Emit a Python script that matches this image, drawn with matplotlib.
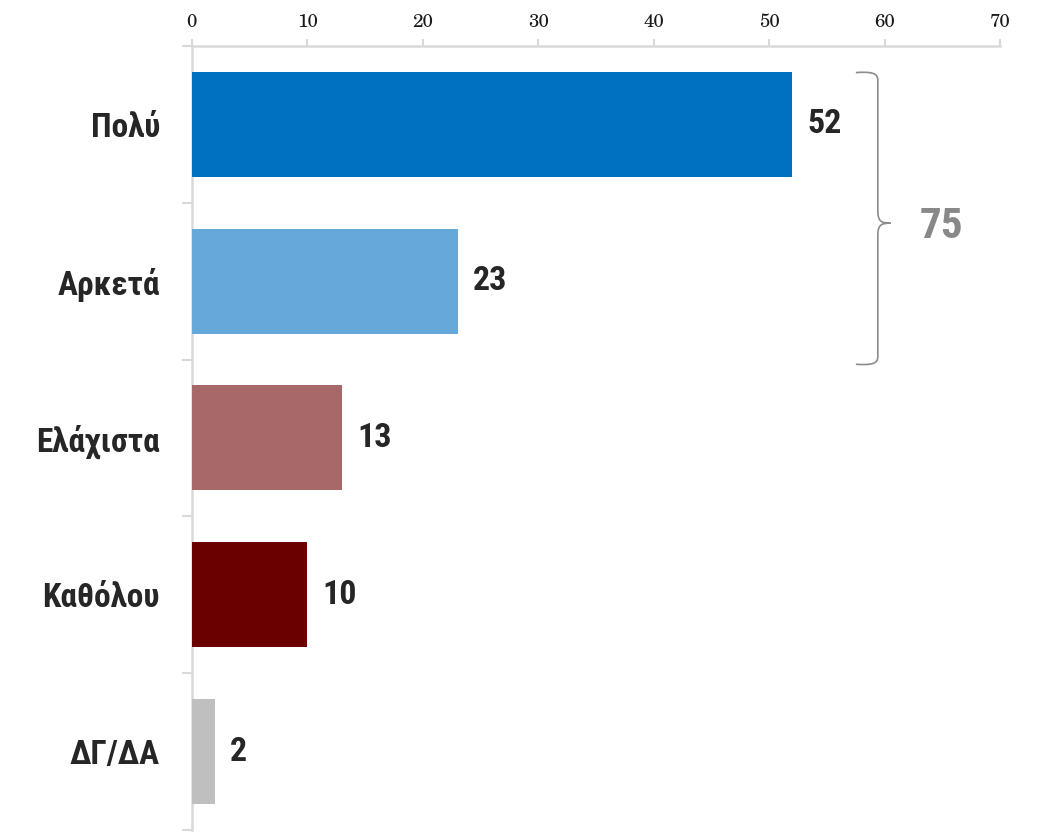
import matplotlib
matplotlib.use('Agg')
import matplotlib.pyplot as plt
from matplotlib.path import Path
from matplotlib.patches import PathPatch
import numpy as np

categories = ['Πολύ', 'Αρκετά', 'Ελάχιστα', 'Καθόλου', 'ΔΓ/ΔΑ']
values = [52, 23, 13, 10, 2]
colors = ['#0070C0', '#66A8D9', '#A66868', '#6B0000', '#BFBFBF']
group_total = 75
xticks = [0, 10, 20, 30, 40, 50, 60, 70]

narrow = ['Roboto Condensed', 'Liberation Sans Narrow', 'Liberation Sans']
serif = ['TeX Gyre Schola', 'C059', 'DejaVu Serif']

fig = plt.figure(figsize=(10.43, 8.35), dpi=100)
ax = fig.add_axes([0.184, 0.006, 0.775, 0.939])

y = np.arange(len(categories))
ax.barh(y, values, height=0.67, color=colors, zorder=3)
ax.set_xlim(0, 70)
ax.set_ylim(4.5, -0.5)

# x axis on top
ax.xaxis.tick_top()
ax.set_xticks(xticks)
ax.set_xticklabels([str(t) for t in xticks], fontfamily=serif, fontsize=13.5, color='#1a1a1a')
ax.tick_params(axis='x', which='major', direction='out', length=5, width=1.5,
               color='#d9d9d9', pad=6)

ax.set_yticks(y)
ax.set_yticklabels(categories, fontfamily=narrow, fontweight='bold', fontsize=24, color='#262626')
ax.tick_params(axis='y', which='major', length=0, pad=23)
ax.set_yticks(np.arange(-0.5, 5.0, 1.0), minor=True)
ax.tick_params(axis='y', which='minor', direction='out', length=7, width=1.5, color='#d9d9d9')

for s in ['right', 'bottom']:
    ax.spines[s].set_visible(False)
for s in ['top', 'left']:
    ax.spines[s].set_color('#d9d9d9')
    ax.spines[s].set_linewidth(1.8)

for yi, v in zip(y, values):
    ax.annotate(str(v), xy=(v, yi), xytext=(11, 0), textcoords='offset points',
                ha='left', va='center', fontfamily=narrow, fontweight='bold',
                fontsize=24.5, color='#262626')

# curly bracket spanning the first two bars
x0, x1, x2 = 57.5, 59.4, 60.5
yt, yb = -0.33, 1.53
ym = 0.63
verts = [
    (x0, yt), (x1, yt - 0.01), (x1, yt + 0.02), (x1, yt + 0.06),
    (x1, ym - 0.08),
    (x1, ym - 0.01), (x1 + 0.3, ym), (x2, ym),
    (x1 + 0.3, ym), (x1, ym + 0.01), (x1, ym + 0.08),
    (x1, yb - 0.06),
    (x1, yb - 0.02), (x1, yb + 0.01), (x0, yb),
]
codes = [Path.MOVETO, Path.CURVE4, Path.CURVE4, Path.CURVE4,
         Path.LINETO,
         Path.CURVE4, Path.CURVE4, Path.CURVE4,
         Path.CURVE4, Path.CURVE4, Path.CURVE4,
         Path.LINETO,
         Path.CURVE4, Path.CURVE4, Path.CURVE4]
ax.add_patch(PathPatch(Path(verts, codes), fill=False, edgecolor='#8c8c8c',
                       linewidth=1.2, clip_on=False))
ax.text(63.0, ym + 0.02, str(group_total), ha='left', va='center', fontfamily=narrow,
        fontweight='bold', fontsize=31, color='#888888')

fig.savefig('out.png', dpi=100)
